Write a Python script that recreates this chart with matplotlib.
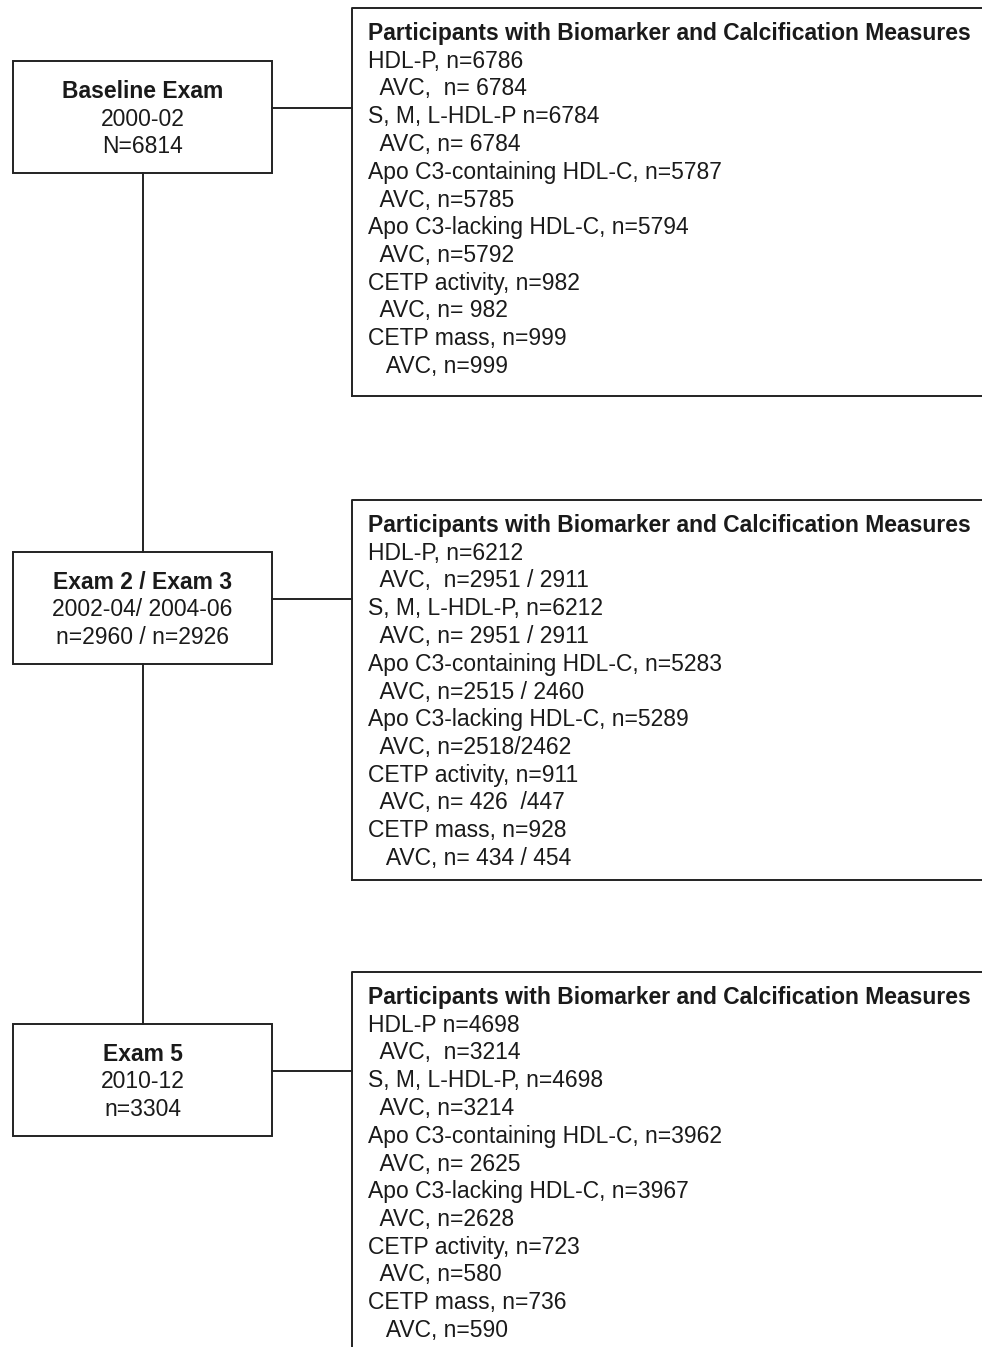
import matplotlib.pyplot as plt
from matplotlib.patches import Rectangle

plt.rcParams['font.family'] = ['Liberation Sans', 'DejaVu Sans']

# exam boxes (title, dates, count)
exam_titles = ["Baseline Exam", "Exam 2 / Exam 3", "Exam 5"]
exam_dates = ["2000-02", "2002-04/ 2004-06", "2010-12"]
exam_counts = ["N=6814", "n=2960 / n=2926", "n=3304"]

header = "Participants with Biomarker and Calcification Measures"

# right boxes: list of lines, leading spaces keep the indent of the original
measures_baseline = [
    "HDL-P, n=6786",
    "  AVC,  n= 6784",
    "S, M, L-HDL-P n=6784",
    "  AVC, n= 6784",
    "Apo C3-containing HDL-C, n=5787",
    "  AVC, n=5785",
    "Apo C3-lacking HDL-C, n=5794",
    "  AVC, n=5792",
    "CETP activity, n=982",
    "  AVC, n= 982",
    "CETP mass, n=999",
    "   AVC, n=999",
]
measures_exam23 = [
    "HDL-P, n=6212",
    "  AVC,  n=2951 / 2911",
    "S, M, L-HDL-P, n=6212",
    "  AVC, n= 2951 / 2911",
    "Apo C3-containing HDL-C, n=5283",
    "  AVC, n=2515 / 2460",
    "Apo C3-lacking HDL-C, n=5289",
    "  AVC, n=2518/2462",
    "CETP activity, n=911",
    "  AVC, n= 426  /447",
    "CETP mass, n=928",
    "   AVC, n= 434 / 454",
]
measures_exam5 = [
    "HDL-P n=4698",
    "  AVC,  n=3214",
    "S, M, L-HDL-P, n=4698",
    "  AVC, n=3214",
    "Apo C3-containing HDL-C, n=3962",
    "  AVC, n= 2625",
    "Apo C3-lacking HDL-C, n=3967",
    "  AVC, n=2628",
    "CETP activity, n=723",
    "  AVC, n=580",
    "CETP mass, n=736",
    "   AVC, n=590",
]
measures = [measures_baseline, measures_exam23, measures_exam5]

W, H = 982, 1347
fig = plt.figure(figsize=(W / 100, H / 100), dpi=100)
ax = fig.add_axes([0, 0, 1, 1])
ax.set_xlim(0, W)
ax.set_ylim(H, 0)
ax.axis('off')

lc = '#222222'
tc = '#1a1a1a'
lw = 1.4
fs = 16.5

# layout (pixel coordinates)
left_x0, left_x1 = 13, 272
left_tops = [61, 552, 1024]
left_h = 112
right_x0 = 352
right_tops = [8, 500, 972]
right_bottoms = [396, 880, None]
line_step = 27.75

# vertical spine between exam boxes
for i in range(len(left_tops) - 1):
    ax.plot([143, 143], [left_tops[i] + left_h, left_tops[i + 1]], color=lc, lw=lw)

for i in range(len(exam_titles)):
    top = left_tops[i]
    ax.add_patch(Rectangle((left_x0, top), left_x1 - left_x0, left_h,
                           fill=False, edgecolor=lc, lw=lw))
    cx = (left_x0 + left_x1) / 2
    ax.text(cx, top + 37, exam_titles[i], ha='center', va='baseline',
            fontsize=fs, fontweight='bold', color=tc)
    ax.text(cx, top + 64.5, exam_dates[i], ha='center', va='baseline',
            fontsize=fs, color=tc)
    ax.text(cx, top + 92, exam_counts[i], ha='center', va='baseline',
            fontsize=fs, color=tc)

    # connector to right box
    cy = top + 47
    ax.plot([left_x1, right_x0], [cy, cy], color=lc, lw=lw)

    # right box: open on the right (cut by the figure edge)
    rt = right_tops[i]
    rb = right_bottoms[i]
    bottom = rb if rb is not None else H + 5
    ax.plot([W + 5, right_x0, right_x0], [rt, rt, bottom], color=lc, lw=lw)
    if rb is not None:
        ax.plot([right_x0, W + 5], [rb, rb], color=lc, lw=lw)

    ty = rt + 32
    ax.text(368, ty, header, ha='left', va='baseline', fontsize=fs,
            fontweight='bold', color=tc)
    for j, line in enumerate(measures[i]):
        ax.text(368, ty + (j + 1) * line_step, line, ha='left', va='baseline',
                fontsize=fs, color=tc)

fig.savefig('out.png', dpi=100, facecolor='white')
